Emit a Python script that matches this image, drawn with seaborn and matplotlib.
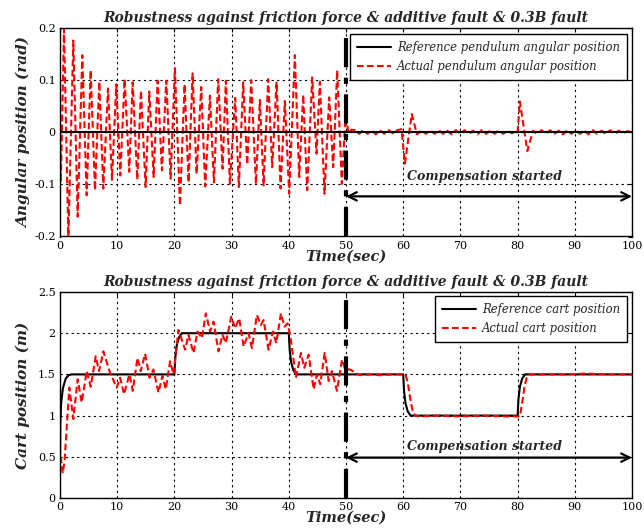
import numpy as np
import pandas as pd
import matplotlib
matplotlib.use("Agg")
import matplotlib.pyplot as plt
import seaborn as sns
from matplotlib.lines import Line2D

# ---------------- data ----------------
# pendulum angle: extrema of the actual response (time s, rad)
ang_t = [0.0, 0.15, 0.7, 1.46, 2.33, 3.09, 3.9, 4.66, 5.36, 6.12, 6.87, 7.57, 8.39, 9.09,
         9.84, 10.54, 11.3, 12.11, 12.7, 13.51, 14.15, 14.97, 15.61, 16.37, 17.07, 17.82,
         18.58, 19.34, 20.09, 20.97, 21.78, 22.48, 23.18, 23.88, 24.69, 25.39, 26.21, 26.91,
         27.66, 28.42, 29.0, 29.7, 30.63, 31.27, 32.03, 32.73, 33.43, 34.25, 34.94, 35.59,
         36.4, 37.1, 37.86, 38.56, 39.31, 40.07, 41.06, 41.82, 42.52, 43.22, 44.09, 44.85,
         45.43, 46.24, 47.06, 47.76, 48.46, 49.27, 49.95, 50.4, 51.0, 51.6, 52.3, 53.0,
         53.8, 54.5, 55.2, 56.0, 56.7, 57.5, 58.2, 59.0, 59.7, 60.3, 61.5, 62.4, 63.2,
         64.0, 64.7, 65.5, 66.2, 67.0, 67.7, 68.5, 69.2, 70.0, 70.7, 71.5, 72.2, 73.0,
         73.7, 74.5, 75.2, 76.0, 76.7, 77.5, 78.2, 79.0, 79.7, 80.0, 80.4, 81.7, 82.7,
         83.4, 84.2, 84.9, 85.7, 86.4, 87.2, 87.9, 88.7, 89.4, 90.2, 90.9, 91.7, 92.4,
         93.2, 93.9, 94.7, 95.4, 96.2, 96.9, 97.7, 98.4, 99.2, 100.0]
ang_v = [0.0, -0.095, 0.198, -0.2, 0.176, -0.162, 0.148, -0.121, 0.119, -0.111, 0.097,
         -0.108, 0.084, -0.091, 0.092, -0.083, 0.102, -0.076, 0.096, -0.091, 0.08, -0.105,
         0.078, -0.086, 0.099, -0.073, 0.099, -0.089, 0.123, -0.14, 0.092, -0.096, 0.113,
         -0.08, 0.087, -0.104, 0.07, -0.096, 0.102, -0.07, 0.099, -0.099, 0.066, -0.105,
         0.096, -0.062, 0.1, -0.099, 0.062, -0.102, 0.102, -0.067, 0.097, -0.108, 0.06,
         -0.118, 0.148, -0.086, 0.072, -0.111, 0.105, -0.041, 0.097, -0.118, 0.067, -0.067,
         0.119, -0.099, 0.04, -0.002, 0.005, 0.004, -0.003, 0.004, -0.003, 0.004, -0.004,
         0.003, -0.003, 0.004, -0.002, 0.004, 0.006, -0.06, 0.035, -0.004, 0.003, -0.003,
         0.004, -0.003, 0.004, -0.003, 0.003, -0.004, 0.004, -0.003, 0.004, -0.003, 0.003,
         -0.004, 0.004, -0.003, 0.003, -0.003, 0.004, -0.003, 0.003, -0.002, 0.002, 0.0,
         0.059, -0.036, 0.003, -0.003, 0.004, -0.003, 0.004, -0.003, 0.003, -0.004, 0.004,
         -0.003, 0.004, -0.003, 0.003, -0.004, 0.004, -0.003, 0.003, -0.003, 0.004, -0.003,
         0.003, -0.002, 0.002, 0.0]
ang_ref_t = [0, 100]
ang_ref_v = [0, 0]

# cart position: reference (breakpoints) and actual response
cart_ref_t = [0, 0.05, 0.2, 0.5, 1.0, 1.5, 2.0, 20.0, 20.15, 20.4, 20.8, 21.3, 40.0, 40.15,
              40.4, 40.8, 41.3, 60.0, 60.15, 60.4, 60.8, 61.3, 80.0, 80.15, 80.4, 80.8,
              81.3, 100]
cart_ref_v = [0.45, 0.9, 1.15, 1.33, 1.45, 1.49, 1.5, 1.5, 1.7, 1.85, 1.95, 2.0, 2.0, 1.8,
              1.65, 1.55, 1.5, 1.5, 1.3, 1.15, 1.05, 1.0, 1.0, 1.2, 1.35, 1.45, 1.5, 1.5]
cart_t = [0.0, 0.17, 0.47, 0.8, 1.63, 2.33, 3.09, 3.79, 4.67, 5.37, 6.24, 6.83, 7.58, 8.75,
          9.92, 10.5, 11.2, 12.14, 12.72, 13.54, 14.12, 14.88, 15.64, 16.34, 17.21, 17.91,
          18.49, 19.25, 19.84, 20.71, 21.88, 22.46, 23.34, 24.04, 24.8, 25.5, 26.25, 26.84,
          27.71, 28.41, 29.0, 29.93, 30.63, 31.33, 32.09, 32.96, 33.55, 34.42, 35.12, 35.59,
          36.46, 37.22, 37.81, 38.62, 39.26, 39.79, 40.3, 41.25, 42.12, 42.71, 43.47, 44.34,
          44.92, 45.51, 46.27, 46.97, 47.55, 48.42, 49.3, 49.88, 50.7, 52.4, 54.0, 56.0,
          58.0, 60.4, 60.8, 61.2, 61.6, 62.1, 63.0, 66.0, 70.0, 74.0, 78.0, 80.4, 80.8,
          81.2, 81.6, 82.1, 84.0, 88.0, 92.0, 96.0, 100.0]
cart_v = [0.46, 0.48, 0.30, 0.45, 1.34, 0.96, 1.44, 1.16, 1.54, 1.35, 1.72, 1.54, 1.78,
          1.52, 1.34, 1.46, 1.26, 1.5, 1.3, 1.7, 1.54, 1.75, 1.46, 1.56, 1.28, 1.48, 1.32,
          1.66, 1.5, 2.04, 1.8, 1.98, 1.76, 2.02, 1.94, 2.24, 2.02, 2.14, 1.78, 1.98, 1.88,
          2.2, 2.06, 2.18, 1.84, 2.0, 1.82, 2.22, 2.1, 2.16, 1.8, 2.02, 1.88, 2.24, 2.08,
          2.12, 1.95, 1.46, 1.76, 1.58, 1.74, 1.32, 1.5, 1.38, 1.76, 1.42, 1.54, 1.3, 1.68,
          1.56, 1.56, 1.49, 1.5, 1.49, 1.5, 1.5, 1.4, 1.22, 1.07, 1.0, 0.99, 1.0, 0.99, 1.0,
          0.99, 0.99, 1.15, 1.35, 1.46, 1.5, 1.5, 1.5, 1.51, 1.5, 1.5]

title_txt = "Robustness against friction force & additive fault & 0.3B fault"
xlab = "Time(sec)"
ylab_top = "Angular position (rad)"
ylab_bot = "Cart position (m)"
leg_top = ["Reference pendulum angular position", "Actual pendulum angular position"]
leg_bot = ["Reference cart position", "Actual cart position"]
note = "Compensation started"

# ---------------- figure ----------------
sns.set_style("white")
plt.rcParams["font.family"] = ["DejaVu Serif"]

fig = plt.figure(figsize=(6.44, 5.29), dpi=100)
ax1 = fig.add_axes([60/644, 1-236.5/529, 572/644, 208.5/529])
ax2 = fig.add_axes([60/644, 1-498/529, 572/644, 206/529])

bold_it = dict(fontweight="bold", fontstyle="italic", family="DejaVu Serif")
RED_DASH = (0, (3.2, 1.6))

def style_axes(ax, ylim, yticks):
    ax.set_xlim(0, 100)
    ax.set_ylim(*ylim)
    ax.set_xticks(range(0, 101, 10))
    ax.set_yticks(yticks)
    ax.grid(True, color="black", linestyle=(0, (2, 3)), linewidth=0.8)
    for s in ax.spines.values():
        s.set_color("black")
        s.set_linewidth(1.0)
    ax.tick_params(direction="in", length=3, width=0.8, top=True, right=True,
                   labelsize=8, colors="black", pad=3)
    ax.set_xlabel(xlab, fontsize=10.5, labelpad=-1, **bold_it)
    ax.set_title(title_txt, fontsize=10, pad=4, **bold_it)

# top panel
d_ref = pd.DataFrame({"t": ang_ref_t, "v": ang_ref_v})
d_act = pd.DataFrame({"t": ang_t, "v": ang_v})
sns.lineplot(data=d_act, x="t", y="v", ax=ax1, color="red", linewidth=1.5,
             linestyle=RED_DASH, sort=False, estimator=None)
sns.lineplot(data=d_ref, x="t", y="v", ax=ax1, color="black", linewidth=1.5,
             sort=False, estimator=None)
style_axes(ax1, (-0.2, 0.2), [-0.2, -0.1, 0, 0.1, 0.2])
ax1.set_yticklabels(["-0.2", "-0.1", "0", "0.1", "0.2"])
ax1.set_ylabel(ylab_top, fontsize=11, labelpad=2, **bold_it)

# bottom panel
c_ref = pd.DataFrame({"t": cart_ref_t, "v": cart_ref_v})
c_act = pd.DataFrame({"t": cart_t, "v": cart_v})
sns.lineplot(data=c_ref, x="t", y="v", ax=ax2, color="black", linewidth=1.5,
             sort=False, estimator=None)
sns.lineplot(data=c_act, x="t", y="v", ax=ax2, color="red", linewidth=1.5,
             linestyle=RED_DASH, sort=False, estimator=None)
style_axes(ax2, (0, 2.5), [0, 0.5, 1, 1.5, 2, 2.5])
ax2.set_yticklabels(["0", "0.5", "1", "1.5", "2", "2.5"])
ax2.set_ylabel(ylab_bot, fontsize=11, labelpad=6, **bold_it)

# annotations: dash-dot line at 50, double arrow, text
for ax, ya, yt in [(ax1, -0.123, -0.084), (ax2, 0.49, 0.63)]:
    ax.axvline(50, color="black", linewidth=3, linestyle=(0, (7, 2.5, 1.5, 2.5)), zorder=5)
    ax.annotate("", xy=(100, ya), xytext=(50, ya),
                arrowprops=dict(arrowstyle="<->,head_length=0.6,head_width=0.3",
                                color="black", lw=1.6, shrinkA=0, shrinkB=0), zorder=6)
    ax.text(74.3, yt, note, ha="center", va="center", fontsize=9, **bold_it)

# legends
def legend(ax, labels, loc_box):
    h = [Line2D([], [], color="black", linewidth=1.5),
         Line2D([], [], color="red", linewidth=1.5, linestyle=RED_DASH)]
    lg = ax.legend(h, labels, loc="upper right", bbox_to_anchor=loc_box, borderaxespad=0,
                   frameon=True, fancybox=False, framealpha=1, edgecolor="black",
                   borderpad=0.6, handlelength=2.9, handletextpad=0.5, labelspacing=0.55,
                   prop=dict(family="DejaVu Serif", style="italic", size=8.4))
    lg.get_frame().set_linewidth(1.0)
    lg.set_zorder(10)

legend(ax1, leg_top, (0.991, 0.971))
legend(ax2, leg_bot, (0.991, 0.982))

fig.savefig("out.png", dpi=100)
